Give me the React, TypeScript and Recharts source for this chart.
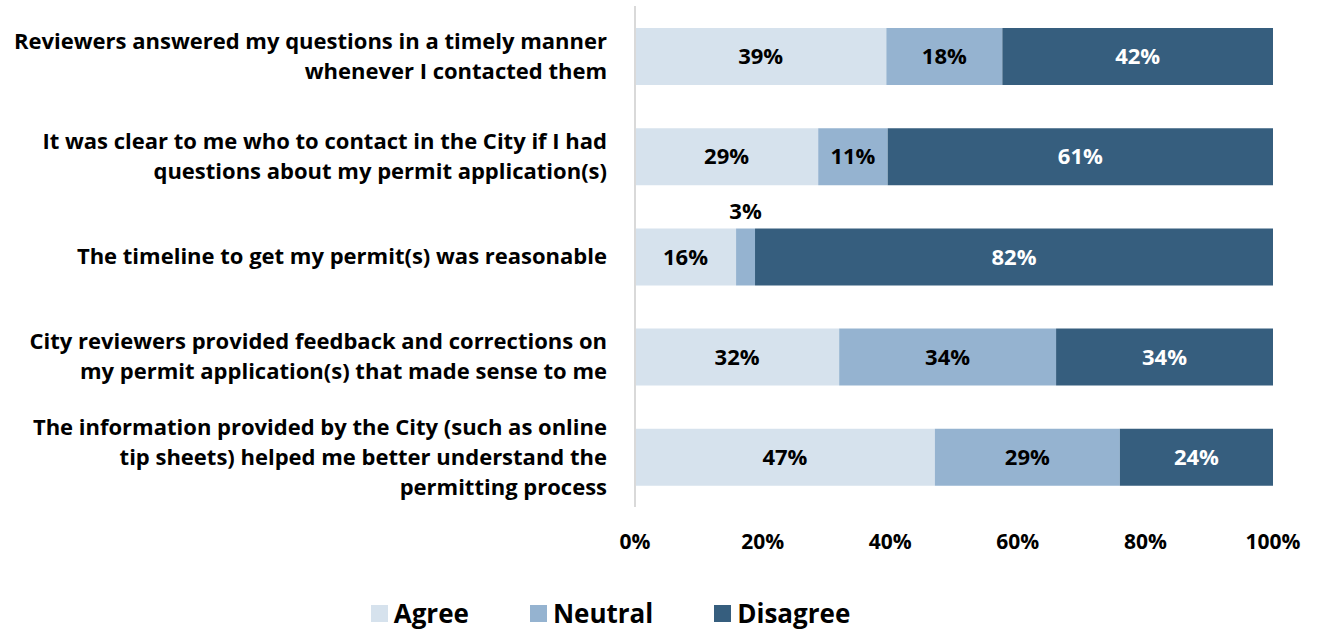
import React from 'react';
import { BarChart, Bar, XAxis, YAxis, Legend, LabelList } from 'recharts';

const categories = [
  'Reviewers answered my questions in a timely manner\nwhenever I contacted them',
  'It was clear to me who to contact in the City if I had\nquestions about my permit application(s)',
  'The timeline to get my permit(s) was reasonable',
  'City reviewers provided feedback and corrections on\nmy permit application(s) that made sense to me',
  'The information provided by the City (such as online\ntip sheets) helped me better understand the\npermitting process',
];
const agree = [39, 29, 16, 32, 47];
const neutral = [18, 11, 3, 34, 29];
const disagree = [42, 61, 82, 34, 24];
const xTicks = [0, 0.2, 0.4, 0.6, 0.8, 1];

const FONT = '"Open Sans", "Noto Sans", sans-serif';
const COLORS = { agree: '#D6E2ED', neutral: '#95B3D0', disagree: '#365E7E' };

const data = categories.map((name, i) => ({
  name,
  agree: agree[i],
  neutral: neutral[i],
  disagree: disagree[i],
}));

const CategoryTick = (props: any) => {
  const { x, y, payload } = props;
  const lines: string[] = String(payload.value).split('\n');
  const lh = 30;
  const start = y - ((lines.length - 1) * lh) / 2;
  return (
    <text x={x - 26} y={start} textAnchor="end" fontFamily={FONT} fontWeight={700} fontSize={22} fill="#000">
      {lines.map((l, i) => (
        <tspan key={i} x={x - 26} y={start + i * lh} dy="0.35em">{l}</tspan>
      ))}
    </text>
  );
};

const makeLabel = (fill: string) => (props: any) => {
  const { x, y, width, height, value } = props;
  const small = width < 30;
  return (
    <text
      x={x + width / 2}
      y={small ? y - 17 : y + height / 2}
      dy="0.35em"
      textAnchor="middle"
      fontFamily={FONT}
      fontWeight={700}
      fontSize={22}
      fill={small ? '#000' : fill}
    >
      {value}%
    </text>
  );
};

const LegendContent = () => {
  const items = [
    { label: 'Agree', color: COLORS.agree },
    { label: 'Neutral', color: COLORS.neutral },
    { label: 'Disagree', color: COLORS.disagree },
  ];
  return (
    <div style={{ display: 'flex', justifyContent: 'center', gap: 61, fontFamily: FONT, fontWeight: 700, fontSize: 26, marginLeft: -52 }}>
      {items.map((it) => (
        <div key={it.label} style={{ display: 'flex', alignItems: 'center' }}>
          <span style={{ width: 17, height: 17, background: it.color, display: 'inline-block', marginRight: 6 }} />
          <span>{it.label}</span>
        </div>
      ))}
    </div>
  );
};

export default function App() {
  return (
    <div style={{ position: 'absolute', left: 0, top: 0, background: '#fff' }}>
      <BarChart
        width={1317}
        height={631}
        data={data}
        layout="vertical"
        stackOffset="expand"
        barSize={57}
        margin={{ top: 6, right: 44, left: 0, bottom: 0 }}
      >
        <XAxis
          type="number"
          domain={[0, 1]}
          ticks={xTicks}
          tickFormatter={(v: number) => `${Math.round(v * 100)}%`}
          axisLine={false}
          tickLine={false}
          tick={{ fontFamily: FONT, fontWeight: 700, fontSize: 21, fill: '#000' }}
          tickMargin={21}
          height={88}
        />
        <YAxis
          type="category"
          dataKey="name"
          width={635}
          tick={<CategoryTick />}
          tickLine={false}
          tickSize={0}
          axisLine={{ stroke: '#D9D9D9', strokeWidth: 2 }}
          interval={0}
        />
        <Legend verticalAlign="bottom" content={<LegendContent />} wrapperStyle={{ bottom: 0 }} />
        <Bar dataKey="agree" name="Agree" stackId="a" fill={COLORS.agree} isAnimationActive={false}>
          <LabelList dataKey="agree" content={makeLabel('#000')} />
        </Bar>
        <Bar dataKey="neutral" name="Neutral" stackId="a" fill={COLORS.neutral} isAnimationActive={false}>
          <LabelList dataKey="neutral" content={makeLabel('#000')} />
        </Bar>
        <Bar dataKey="disagree" name="Disagree" stackId="a" fill={COLORS.disagree} isAnimationActive={false}>
          <LabelList dataKey="disagree" content={makeLabel('#fff')} />
        </Bar>
      </BarChart>
    </div>
  );
}
